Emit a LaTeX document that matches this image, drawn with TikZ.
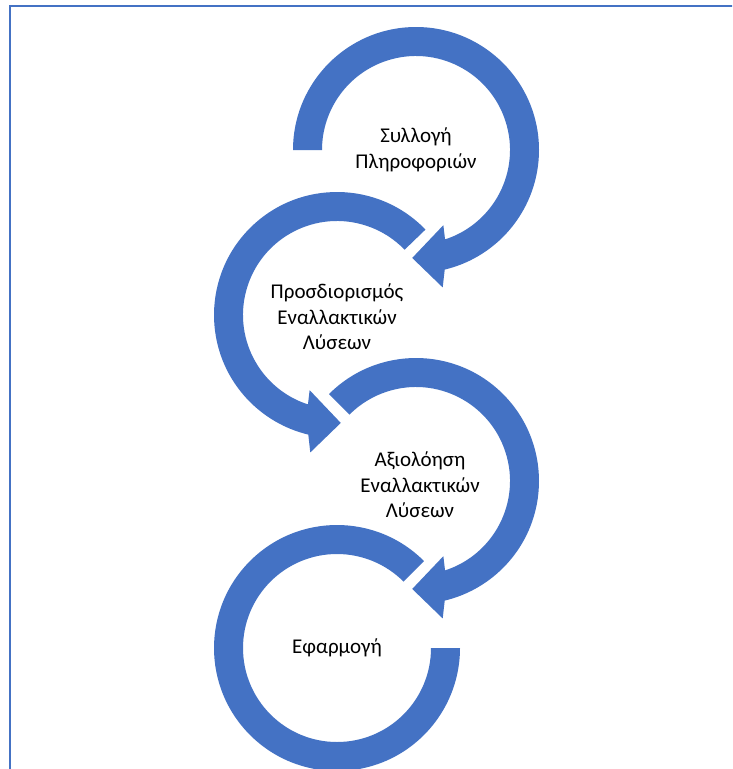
\documentclass[tikz,border=0pt]{standalone}
\usepackage{fontspec}
\setmainfont{Carlito}
\definecolor{accentblue}{RGB}{68,114,196}
\begin{document}
\begin{tikzpicture}[x=1pt,y=1pt,
  ring/.style={fill=accentblue,draw=none},
  label/.style={align=center,font=\fontsize{21}{25.5}\selectfont,text=black,inner sep=0pt}]
\path[use as bounding box,clip] (0,0) rectangle (732,-769);
\fill[white] (0,0) rectangle (732,-769);
% frame
\draw[accentblue,line width=2pt] (10,-6) rectangle (760,-800);

% step 1: clockwise arc with head at the bottom
\begin{scope}[shift={(416,-150)}]
  \fill[ring] (180:123) arc[start angle=180,end angle=-76.5,radius=123]
    -- (-79:140) -- (-92:108) -- (-70:80) -- (-72:94)
    arc[start angle=-72,end angle=180,radius=94] -- cycle;
  \node[label] (t1) at (0,0) {Συλλογή\\Πληροφοριών};
\end{scope}

% step 2: counter-clockwise arc with head at the bottom
\begin{scope}[shift={(337,-315)}]
  \fill[ring] (44:123) arc[start angle=44,end angle=256.5,radius=123]
    -- (259:140) -- (272:108) -- (250:80) -- (252:94)
    arc[start angle=252,end angle=44,radius=94] -- cycle;
  \node[label] (t2) at (0,-2) {Προσδιορισμός\\Εναλλακτικών\\Λύσεων};
\end{scope}

% step 3: clockwise arc with head at the bottom
\begin{scope}[shift={(416,-481)}]
  \fill[ring] (135:123) arc[start angle=135,end angle=-76.5,radius=123]
    -- (-79:140) -- (-92:108) -- (-70:80) -- (-72:94)
    arc[start angle=-72,end angle=135,radius=94] -- cycle;
  \node[label] (t3) at (4,-4) {Αξιολόηση\\Εναλλακτικών\\Λύσεων};
\end{scope}

% step 4: open ring without a head
\begin{scope}[shift={(337,-648)}]
  \fill[ring] (45:123) arc[start angle=45,end angle=360,radius=123]
    -- (0:94) arc[start angle=360,end angle=45,radius=94] -- cycle;
  \node[label] (t4) at (0,0) {Εφαρμογή};
\end{scope}
\end{tikzpicture}
\end{document}
